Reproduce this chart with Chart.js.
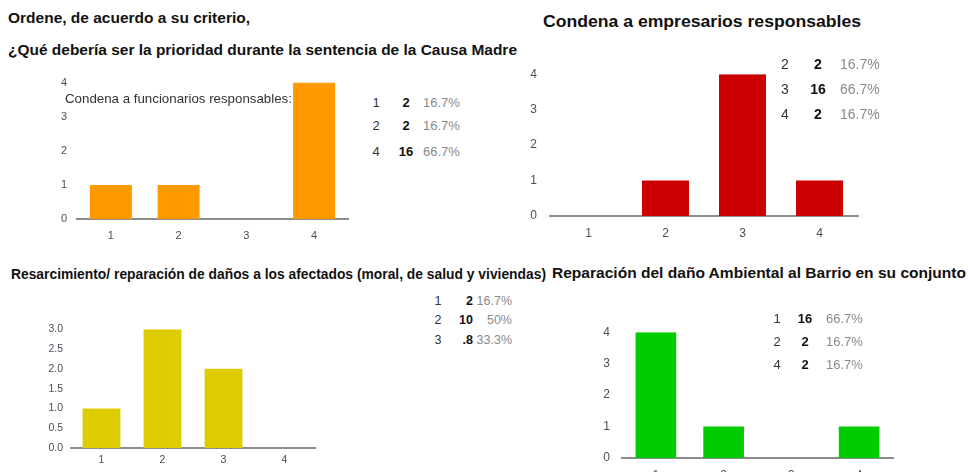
<!DOCTYPE html>
<html>
<head>
<meta charset="utf-8">
<script src="https://cdn.jsdelivr.net/npm/chart.js@4/dist/chart.umd.min.js"></script>
<style>
  html, body { margin: 0; padding: 0; background: #fff; }
  body { width: 968px; height: 472px; position: relative; overflow: hidden; font-family: "Liberation Sans", Arial, sans-serif; }
  .box { position: absolute; }
  .ttl { position: absolute; font-weight: bold; color: #111; white-space: nowrap; line-height: 1; transform-origin: 0 50%; }
  .note { position: absolute; white-space: nowrap; color: #333; line-height: 1; }
  .cell { position: absolute; white-space: nowrap; line-height: 1; }
</style>
</head>
<body>
<div class="box" style="left:47px;top:66px;width:311px;height:183px"><canvas id="c1"></canvas></div>
<div class="box" style="left:520px;top:54px;width:348px;height:192px"><canvas id="c2"></canvas></div>
<div class="box" style="left:31px;top:315px;width:294px;height:163px"><canvas id="c3"></canvas></div>
<div class="box" style="left:592px;top:313px;width:311px;height:175px"><canvas id="c4"></canvas></div>

<script>
// ---- data ----
const cats = ["1", "2", "3", "4"];
const funcionarios = [1, 1, 0, 4];
const empresarios = [0, 1, 4, 1];
const resarcimiento = [1, 3, 2, 0];
const ambiental = [4, 1, 0, 1];

const tblFuncionarios = [["1", "2", "16.7%"], ["2", "2", "16.7%"], ["4", "16", "66.7%"]];
const tblEmpresarios = [["2", "2", "16.7%"], ["3", "16", "66.7%"], ["4", "2", "16.7%"]];
const tblResarcimiento = [["1", "2", "16.7%"], ["2", "10", "50%"], ["3", ".8", "33.3%"]];
const tblAmbiental = [["1", "16", "66.7%"], ["2", "2", "16.7%"], ["4", "2", "16.7%"]];

const titles = [
  { t: "Ordene, de acuerdo a su criterio,", x: 8, y: 18, size: 14, w: 242 },
  { t: "¿Qué debería ser la prioridad durante la sentencia de la Causa Madre", x: 8, y: 49, size: 15, w: 509 },
  { t: "Condena a empresarios responsables", x: 543, y: 22, size: 16, w: 318 },
  { t: "Resarcimiento/ reparación de daños a los afectados (moral, de salud y viviendas)", x: 11, y: 273, size: 15, w: 535 },
  { t: "Reparación del daño Ambiental al Barrio en su conjunto", x: 552, y: 273, size: 15.5, w: 414 }
];

const TICK = "#4d4d58";
Chart.defaults.font.family = "'Liberation Sans', Arial, sans-serif";
Chart.defaults.animation = false;

function bars(id, data, color, o) {
  new Chart(document.getElementById(id), {
    type: "bar",
    data: { labels: cats, datasets: [{ data: data, backgroundColor: color, barPercentage: o.bp, categoryPercentage: 1 }] },
    options: {
      responsive: true, maintainAspectRatio: false,
      layout: { padding: { top: 12, right: 10, left: 0, bottom: 0 } },
      plugins: { legend: { display: false }, tooltip: { enabled: false } },
      scales: {
        x: {
          grid: { display: false, drawTicks: false },
          border: { display: true, color: "#8c8c8c", width: 2 },
          ticks: { color: TICK, font: { size: o.fs }, padding: o.xpad },
          afterFit: s => { s.height = 30; }
        },
        y: {
          min: 0, max: o.max,
          grid: { display: false, drawTicks: false },
          border: { display: false },
          ticks: { color: TICK, font: { size: o.fs }, padding: o.ypad, stepSize: o.step,
                   callback: v => o.step < 1 ? v.toFixed(1) : v },
          afterFit: s => { s.width = o.yw; }
        }
      }
    }
  });
}

bars("c1", funcionarios, "#ff9900", { bp: 0.62, fs: 11, xpad: 10, ypad: 10, max: 4, step: 1, yw: 30 });
bars("c2", empresarios, "#cc0000", { bp: 0.61, fs: 12, xpad: 10, ypad: 13, max: 4, step: 1, yw: 30 });
bars("c3", resarcimiento, "#ddcc00", { bp: 0.62, fs: 10.5, xpad: 6, ypad: 8, max: 3, step: 0.5, yw: 40 });
bars("c4", ambiental, "#00cc00", { bp: 0.6, fs: 12, xpad: 10, ypad: 12, max: 4, step: 1, yw: 30 });

// titles, stretched to the width they take in the picture
titles.forEach(d => {
  const el = document.createElement("div");
  el.className = "ttl";
  el.textContent = d.t;
  el.style.fontSize = d.size + "px";
  el.style.left = d.x + "px";
  el.style.top = (d.y - d.size / 2) + "px";
  document.body.appendChild(el);
  const w = el.getBoundingClientRect().width;
  el.style.transform = "scaleX(" + (d.w / w) + ")";
});

const note = document.createElement("div");
note.className = "note";
note.textContent = "Condena a funcionarios responsables:";
note.style.cssText = "left:65px;top:92px;font-size:13.3px";
document.body.appendChild(note);

// side tables: rank, count, share
function table(rows, o) {
  rows.forEach((r, i) => {
    const y = o.y[i];
    const cols = [
      { t: r[0], x: o.x[0], c: "#333", b: false, a: "c" },
      { t: r[1], x: o.x[1], c: "#111", b: true, a: o.a2 },
      { t: r[2], x: o.x[2], c: "#8a8a8a", b: false, a: o.a3 }
    ];
    cols.forEach(cl => {
      const el = document.createElement("div");
      el.className = "cell";
      el.textContent = cl.t;
      el.style.fontSize = o.fs + "px";
      el.style.color = cl.c;
      if (cl.b) el.style.fontWeight = "bold";
      el.style.top = (y - o.fs / 2) + "px";
      document.body.appendChild(el);
      const w = el.getBoundingClientRect().width;
      const left = cl.a === "c" ? cl.x - w / 2 : cl.a === "r" ? cl.x - w : cl.x;
      el.style.left = left + "px";
    });
  });
}

table(tblFuncionarios, { x: [376, 406, 423], y: [102, 125, 151], fs: 13, a2: "c", a3: "l" });
table(tblEmpresarios, { x: [785, 818, 840], y: [64, 89, 114], fs: 14, a2: "c", a3: "l" });
table(tblResarcimiento, { x: [438, 473, 512], y: [301, 320, 340], fs: 12.5, a2: "r", a3: "r" });
table(tblAmbiental, { x: [777, 805, 826], y: [318, 341, 364], fs: 13, a2: "c", a3: "l" });
</script>
</body>
</html>
